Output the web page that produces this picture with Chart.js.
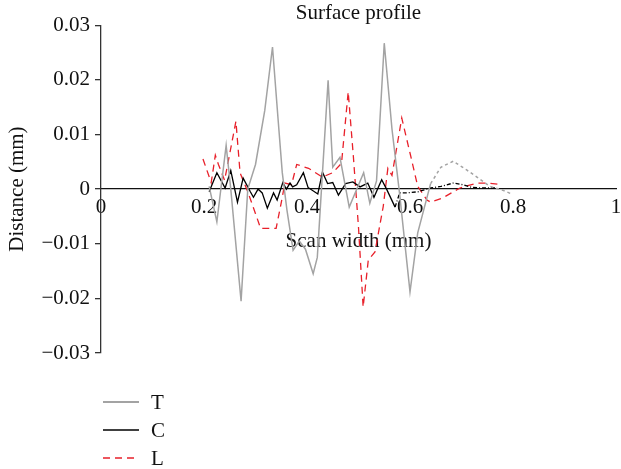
<!DOCTYPE html>
<html>
<head>
<meta charset="utf-8">
<script src="https://cdn.jsdelivr.net/npm/chart.js@4.4.1/dist/chart.umd.min.js"></script>
<style>
  html, body { margin: 0; padding: 0; background: #fff; }
  #wrap { position: relative; width: 621px; height: 469px; }
  #legend { position: absolute; left: 103px; top: 388px; font-family: "Liberation Serif", "DejaVu Serif", serif; font-size: 21px; color: #111; }
  .item { display: flex; align-items: center; height: 28px; }
  .item svg { margin-right: 12px; }
</style>
</head>
<body>
<div id="wrap">
  <canvas id="c" width="621" height="469"></canvas>
  <div id="legend"></div>
</div>
<script>
// ---- data ----
const seriesNames = ['T', 'C', 'L'];

const tX = [0.21, 0.225, 0.243, 0.252, 0.272, 0.285, 0.300, 0.318, 0.333, 0.344, 0.352, 0.361, 0.373, 0.385, 0.397, 0.412, 0.420, 0.441, 0.450, 0.464, 0.482, 0.490, 0.510, 0.522, 0.535, 0.550, 0.565, 0.580, 0.600, 0.615, 0.640, 0.660, 0.684, 0.710, 0.730, 0.755, 0.780, 0.795];
const tY = [0.0005, -0.006, 0.008, 0.0, -0.0205, 0.0, 0.0045, 0.0144, 0.026, 0.0126, 0.003, -0.0038, -0.0112, -0.0095, -0.011, -0.0155, -0.0125, 0.0199, 0.004, 0.0058, -0.0033, -0.0015, 0.003, -0.0026, 0.0015, 0.0267, 0.011, -0.001, -0.0188, -0.008, 0.001, 0.004, 0.0051, 0.0035, 0.0022, 0.0005, -0.0002, -0.0008];

const cX = [0.21, 0.225, 0.241, 0.252, 0.265, 0.276, 0.290, 0.296, 0.305, 0.313, 0.323, 0.335, 0.342, 0.353, 0.360, 0.367, 0.372, 0.380, 0.393, 0.402, 0.421, 0.430, 0.440, 0.450, 0.461, 0.475, 0.489, 0.503, 0.518, 0.530, 0.545, 0.555, 0.571, 0.580, 0.594, 0.615, 0.640, 0.660, 0.684, 0.702, 0.720, 0.740, 0.768];
const cY = [-0.0005, 0.003, 0.0002, 0.0034, -0.0024, 0.002, -0.0005, -0.0015, 0.0, -0.0007, -0.0035, -0.0007, -0.002, 0.0012, 0.0, 0.0011, 0.0004, 0.0008, 0.003, 0.0003, -0.0009, 0.0031, 0.001, 0.0012, -0.0011, 0.001, 0.0013, 0.0004, 0.0011, -0.0015, 0.0017, -0.0001, -0.0033, -0.0007, -0.0007, -0.0005, 0.0002, 0.0005, 0.0011, 0.0008, 0.0003, 0.0002, 0.0002];

const lX = [0.198, 0.214, 0.222, 0.228, 0.240, 0.262, 0.270, 0.285, 0.300, 0.310, 0.340, 0.350, 0.357, 0.370, 0.380, 0.403, 0.430, 0.450, 0.467, 0.480, 0.490, 0.500, 0.509, 0.519, 0.532, 0.548, 0.557, 0.565, 0.584, 0.600, 0.615, 0.633, 0.640, 0.664, 0.697, 0.730, 0.750, 0.779];
const lY = [0.0055, 0.0012, 0.0062, 0.0045, 0.0016, 0.0124, 0.003, -0.0005, -0.0045, -0.0072, -0.0072, -0.0025, 0.0011, 0.0008, 0.0045, 0.0038, 0.0022, 0.003, 0.0047, 0.0178, 0.006, -0.007, -0.0216, -0.013, -0.0115, -0.0032, 0.0038, 0.0025, 0.013, 0.0066, 0.0005, -0.002, -0.0024, -0.0016, 0.0002, 0.0011, 0.0011, 0.0008];

const xTickValues = [0, 0.2, 0.4, 0.6, 0.8, 1];
const xTickLabels = ['0', '0.2', '0.4', '0.6', '0.8', '1'];
const yTickValues = [-0.03, -0.02, -0.01, 0, 0.01, 0.02, 0.03];
const yTickLabels = ['\u22120.03', '\u22120.02', '\u22120.01', '0', '0.01', '0.02', '0.03'];

// ---- build chart ----
const FONT = '"Liberation Serif", "DejaVu Serif", serif';
const FS = 21;
const pts = (xs, ys) => xs.map((x, i) => ({ x: x, y: ys[i] }));

const styles = [
  { color: '#a3a3a3', width: 1.5, dash: [], after: 0.635, afterDash: [3, 3] },
  { color: '#000000', width: 1.3, dash: [], after: 0.571, afterDash: [4, 2, 1, 2] },
  { color: '#e8202a', width: 1.3, dash: [7, 5], after: null, afterDash: null }
];
const dataSets = [pts(tX, tY), pts(cX, cY), pts(lX, lY)];

const datasets = seriesNames.map((name, i) => {
  const s = styles[i];
  return {
    label: name,
    data: dataSets[i],
    borderColor: s.color,
    borderWidth: s.width,
    borderDash: s.dash,
    pointRadius: 0,
    tension: 0,
    fill: false,
    segment: s.after === null ? {} : {
      borderDash: ctx => (ctx.p0.parsed.x >= s.after ? s.afterDash : s.dash)
    }
  };
});

new Chart(document.getElementById('c'), {
  type: 'line',
  data: { datasets: datasets },
  options: {
    responsive: false,
    animation: false,
    events: [],
    layout: { padding: { left: 0, right: 5, top: 0, bottom: 116 } },
    plugins: {
      legend: { display: false },
      tooltip: { enabled: false },
      title: {
        display: true,
        fullSize: false,
        text: 'Surface profile',
        color: '#111',
        font: { family: FONT, size: FS, weight: 'normal', lineHeight: 1.15 },
        padding: { top: 1, bottom: 0 }
      }
    },
    scales: {
      x: {
        type: 'linear',
        position: { y: 0 },
        min: 0, max: 1,
        afterBuildTicks: sc => { sc.ticks = xTickValues.map(v => ({ value: v })); },
        afterFit: sc => { sc.paddingLeft = 0; sc.paddingRight = 0; },
        ticks: {
          color: '#111',
          padding: 6,
          maxRotation: 0,
          autoSkip: false,
          font: { family: FONT, size: FS },
          callback: (v, i) => xTickLabels[i]
        },
        grid: { display: false, drawTicks: false },
        border: { display: true, color: '#111', width: 1.3 },
        title: {
          display: true,
          text: 'Scan width (mm)',
          color: '#111',
          font: { family: FONT, size: FS },
          padding: { top: 3, bottom: 0 }
        }
      },
      y: {
        type: 'linear',
        min: -0.03, max: 0.03,
        afterBuildTicks: sc => { sc.ticks = yTickValues.map(v => ({ value: v })); },
        afterFit: sc => { sc.width = 101; },
        ticks: {
          color: '#111',
          padding: 5,
          autoSkip: false,
          font: { family: FONT, size: FS },
          callback: (v, i) => yTickLabels[i]
        },
        grid: { display: true, drawOnChartArea: false, drawTicks: true, tickLength: 6, color: '#333', lineWidth: 1.3 },
        border: { display: true, color: '#333', width: 1.3 },
        title: {
          display: true,
          text: 'Distance (mm)',
          color: '#111',
          font: { family: FONT, size: FS },
          padding: { top: 5, bottom: 0 }
        }
      }
    }
  }
});

// ---- legend (real text) ----
const legend = document.getElementById('legend');
seriesNames.forEach((name, i) => {
  const s = styles[i];
  const row = document.createElement('div');
  row.className = 'item';
  const dash = s.dash.length ? s.dash.join(' ') : 'none';
  row.innerHTML = '<svg width="36" height="6"><line x1="0" y1="3" x2="36" y2="3" stroke="' + s.color +
    '" stroke-width="' + (s.width + 0.4) + '" stroke-dasharray="' + dash + '"/></svg><span>' + name + '</span>';
  legend.appendChild(row);
});
</script>
</body>
</html>
